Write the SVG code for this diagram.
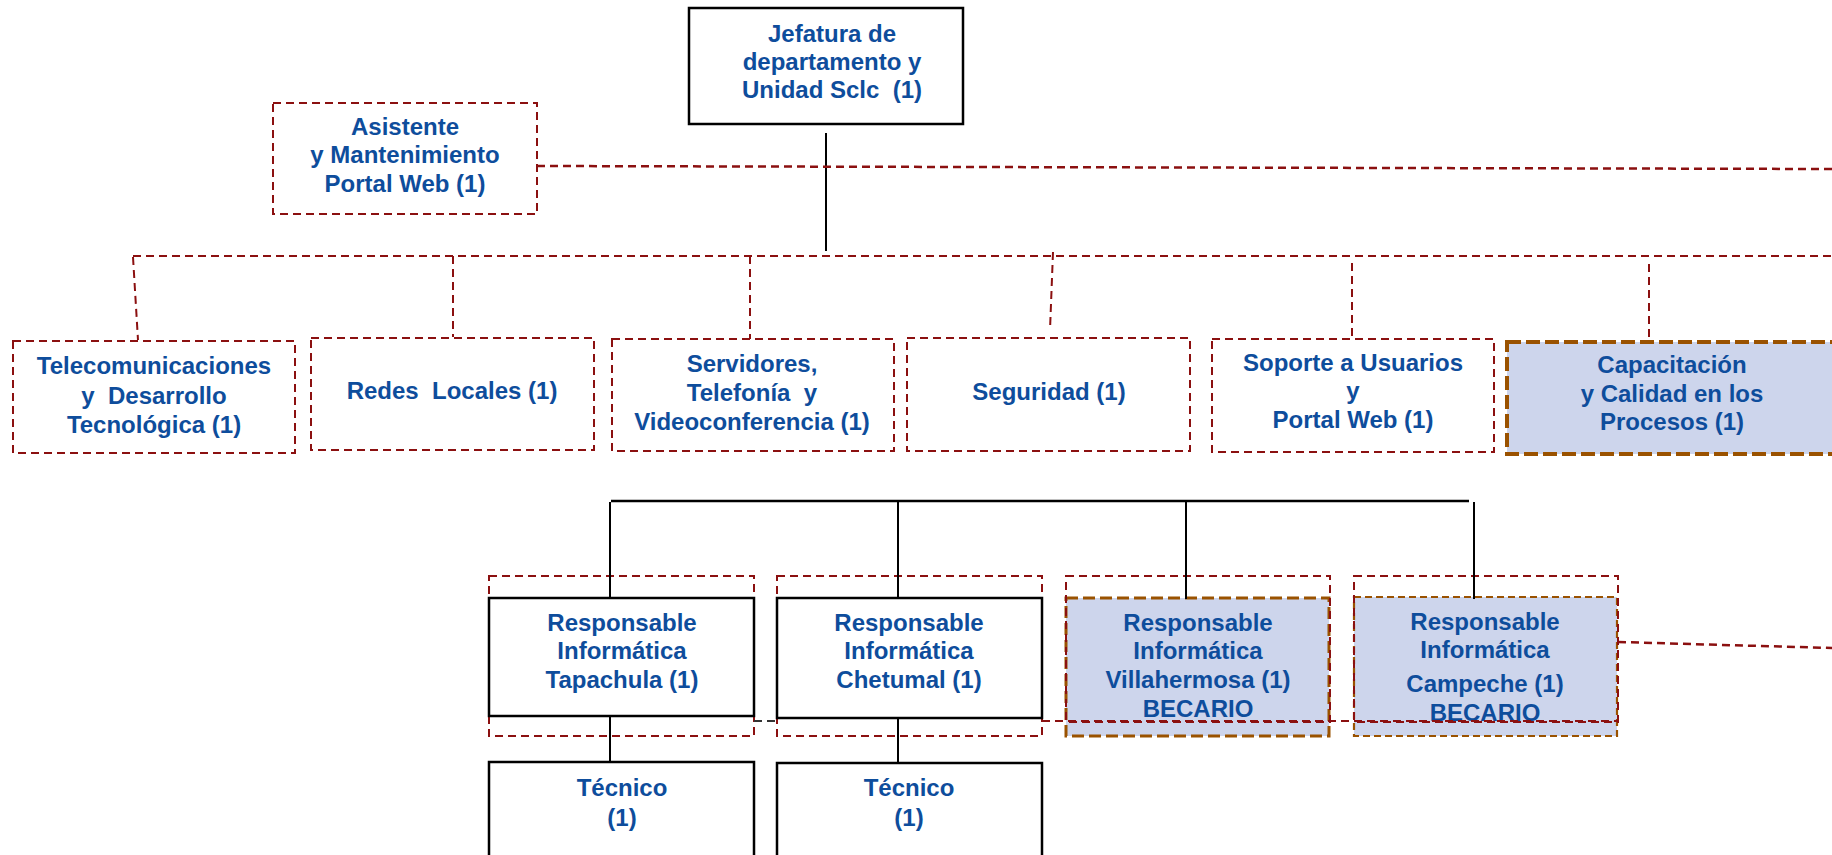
<svg xmlns="http://www.w3.org/2000/svg" width="1832" height="855" viewBox="0 0 1832 855">
<style>
.t{font-family:"Liberation Sans",Arial,sans-serif;font-weight:bold;font-size:24px;fill:#0E4D9C;text-anchor:middle;white-space:pre}
.dr{fill:none;stroke:#8B1010;stroke-width:2;stroke-dasharray:8 5}
.sol{fill:#fff;stroke:#000;stroke-width:2.5}
.cn{stroke:#000;stroke-width:2;fill:none}
.br{fill:#CDD5EC;stroke:#9A5200;stroke-width:4;stroke-dasharray:14 5}
.br2{fill:#CDD5EC;stroke:#9A5200;stroke-width:2.2;stroke-dasharray:7 4}
</style>
<g id="jefatura">
<rect class="sol" x="689" y="8" width="274" height="116"/>
<text class="t" x="832" y="42">Jefatura de</text>
<text class="t" x="832" y="70">departamento y</text>
<text class="t" x="832" y="98" xml:space="preserve">Unidad Sclc  (1)</text>
</g>
<g id="asistente">
<rect class="dr" x="273" y="103" width="264" height="111"/>
<text class="t" x="405" y="135">Asistente</text>
<text class="t" x="405" y="163">y Mantenimiento</text>
<text class="t" x="405" y="192">Portal Web (1)</text>
</g>
<g id="telecom">
<rect class="dr" x="13" y="341" width="282" height="112"/>
<text class="t" x="154" y="374">Telecomunicaciones</text>
<text class="t" x="154" y="404" xml:space="preserve">y  Desarrollo</text>
<text class="t" x="154" y="433">Tecnológica (1)</text>
</g>
<g id="redes">
<rect class="dr" x="311" y="338" width="283" height="112"/>
<text class="t" x="452" y="399" xml:space="preserve">Redes  Locales (1)</text>
</g>
<g id="servidores">
<rect class="dr" x="612" y="339" width="282" height="112"/>
<text class="t" x="752" y="372">Servidores,</text>
<text class="t" x="752" y="401" xml:space="preserve">Telefonía  y</text>
<text class="t" x="752" y="430">Videoconferencia (1)</text>
</g>
<g id="seguridad">
<rect class="dr" x="907" y="338" width="283" height="113"/>
<text class="t" x="1049" y="400">Seguridad (1)</text>
</g>
<g id="soporte">
<rect class="dr" x="1212" y="339" width="282" height="113"/>
<text class="t" x="1353" y="371">Soporte a Usuarios</text>
<text class="t" x="1353" y="399">y</text>
<text class="t" x="1353" y="428">Portal Web (1)</text>
</g>
<g id="capacitacion">
<rect class="br" x="1507" y="342" width="330" height="112"/>
<text class="t" x="1672" y="373">Capacitación</text>
<text class="t" x="1672" y="402">y Calidad en los</text>
<text class="t" x="1672" y="430">Procesos (1)</text>
</g>
<g id="tapachula">
<rect class="dr" x="489" y="576" width="265" height="160"/>
<rect class="sol" x="489" y="598" width="265" height="118" style="fill:none"/>
<text class="t" x="622" y="631">Responsable</text>
<text class="t" x="622" y="659">Informática</text>
<text class="t" x="622" y="688">Tapachula (1)</text>
</g>
<g id="chetumal">
<rect class="dr" x="777" y="576" width="265" height="160"/>
<rect class="sol" x="777" y="598" width="265" height="120" style="fill:none"/>
<text class="t" x="909" y="631">Responsable</text>
<text class="t" x="909" y="659">Informática</text>
<text class="t" x="909" y="688">Chetumal (1)</text>
</g>
<g id="villahermosa">
<rect class="br" x="1066" y="598" width="263" height="138" style="stroke-width:3;stroke-dasharray:12 5"/>
<rect class="dr" x="1066" y="576" width="264" height="146"/>
<text class="t" x="1198" y="631">Responsable</text>
<text class="t" x="1198" y="659">Informática</text>
<text class="t" x="1198" y="688">Villahermosa (1)</text>
<text class="t" x="1198" y="717">BECARIO</text>
</g>
<g id="campeche">
<rect class="br2" x="1354" y="597" width="263" height="139"/>
<rect class="dr" x="1354" y="576" width="264" height="146"/>
<text class="t" x="1485" y="630">Responsable</text>
<text class="t" x="1485" y="658">Informática</text>
<text class="t" x="1485" y="692">Campeche (1)</text>
<text class="t" x="1485" y="721">BECARIO</text>
</g>
<g id="tecnico-tapachula">
<rect class="sol" x="489" y="762" width="265" height="110"/>
<text class="t" x="622" y="796">Técnico</text>
<text class="t" x="622" y="826">(1)</text>
</g>
<g id="tecnico-chetumal">
<rect class="sol" x="777" y="763" width="265" height="110"/>
<text class="t" x="909" y="796">Técnico</text>
<text class="t" x="909" y="826">(1)</text>
</g>
<g id="connectors">
<line class="cn" x1="826" y1="133" x2="826" y2="251"/>
<line class="dr" x1="537" y1="166" x2="1832" y2="169" style="stroke-width:2.5"/>
<line class="dr" x1="133" y1="256" x2="1832" y2="256"/>
<line class="dr" x1="133" y1="257" x2="138" y2="340"/>
<line class="dr" x1="453" y1="256" x2="453" y2="337"/>
<line class="dr" x1="750" y1="256" x2="750" y2="339"/>
<line class="dr" x1="1053" y1="252" x2="1050" y2="330"/>
<line class="dr" x1="1352" y1="263" x2="1352" y2="339"/>
<line class="dr" x1="1649" y1="264" x2="1649" y2="341"/>
<line class="cn" x1="611" y1="501" x2="1469" y2="501" style="stroke-width:2.5"/>
<line class="cn" x1="610" y1="502" x2="610" y2="599"/>
<line class="cn" x1="898" y1="502" x2="898" y2="599"/>
<line class="cn" x1="1186" y1="502" x2="1186" y2="599"/>
<line class="cn" x1="1474" y1="502" x2="1474" y2="599"/>
<line class="cn" x1="610" y1="716" x2="610" y2="762"/>
<line class="cn" x1="898" y1="718" x2="898" y2="763"/>
<line x1="754" y1="721" x2="777" y2="721" stroke="#333" stroke-width="2" stroke-dasharray="8 5"/>
<line class="dr" x1="1042" y1="721" x2="1618" y2="721"/>
<line class="dr" x1="1618" y1="642" x2="1832" y2="648" style="stroke-width:2.5"/>
</g>
</svg>
